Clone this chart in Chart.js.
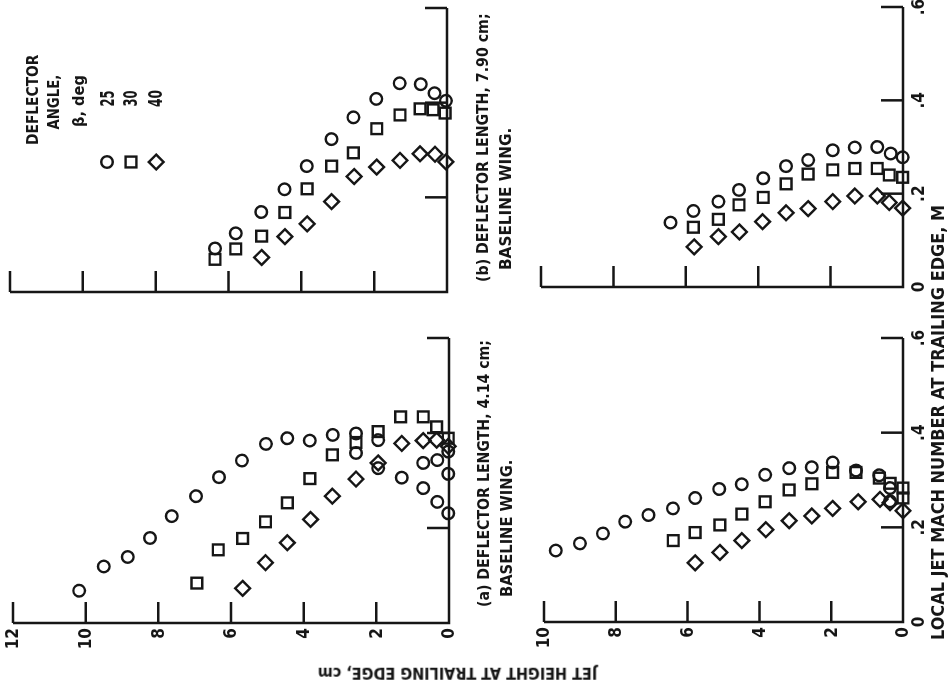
<!DOCTYPE html>
<html>
<head>
<meta charset="utf-8">
<title>Local jet Mach number at trailing edge</title>
<script src="https://cdn.jsdelivr.net/npm/chart.js@4.4.1/dist/chart.umd.min.js"></script>
<style>
  html, body { margin: 0; background: #fff; overflow: hidden; }
  body { width: 951px; height: 690px; position: relative; }
  /* figure is laid out upright, then turned a quarter turn to the left */
  #sheet { position: absolute; left: 0; top: 0; width: 690px; height: 951px;
           transform-origin: 0 0; transform: translate(0, 690px) rotate(-90deg); }
  #sheet canvas { position: absolute; }
  .txt { position: absolute; white-space: nowrap; color: #161616; font-weight: bold; line-height: 1;
         font-family: "Liberation Sans Narrow", "DejaVu Sans Condensed", "Liberation Sans", sans-serif; }
  #key { position: absolute; left: 518px; top: 95px; }
</style>
</head>
<body>
<div id="sheet">
  <canvas id="panelA"></canvas>
  <canvas id="panelB"></canvas>
  <canvas id="panelC"></canvas>
  <canvas id="panelD"></canvas>

  <div class="txt" data-x="83" data-y="484" data-w="267" style="font-size:16px">(a) DEFLECTOR LENGTH, 4.14 cm;</div>
  <div class="txt" data-x="93" data-y="507" data-w="137" style="font-size:16px">BASELINE WING.</div>
  <div class="txt" data-x="408" data-y="483" data-w="269" style="font-size:16px">(b) DEFLECTOR LENGTH, 7.90 cm;</div>
  <div class="txt" data-x="420" data-y="506" data-w="142" style="font-size:16px">BASELINE WING.</div>

  <div class="txt" data-x="50" data-y="938" data-w="435" style="font-size:18px">LOCAL JET MACH NUMBER AT TRAILING EDGE, M</div>
  <div class="txt" data-x="17" data-y="457" data-w="279" data-center="1" data-rot="-90" style="font-size:15px">JET HEIGHT AT TRAILING EDGE, cm</div>

  <div class="txt" data-x="590" data-y="33" data-w="90" data-center="1" style="font-size:15px">DEFLECTOR</div>
  <div class="txt" data-x="588" data-y="54" data-w="55" data-center="1" style="font-size:15px">ANGLE,</div>
  <div class="txt" data-x="589" data-y="79" data-w="52" data-center="1" style="font-size:15px">β, deg</div>
  <div class="txt" id="key25" data-x="591" data-y="107" data-w="16" data-center="1" style="font-size:20px"></div>
  <div class="txt" id="key30" data-x="591" data-y="130" data-w="16" data-center="1" style="font-size:20px"></div>
  <div class="txt" id="key40" data-x="591" data-y="155" data-w="17" data-center="1" style="font-size:20px"></div>

  <svg id="key" width="22" height="76" viewBox="0 0 22 76">
    <g fill="none" stroke="#161616" stroke-width="2.4">
      <circle cx="10" cy="12" r="5.8"/>
      <rect x="4.6" y="30.6" width="10.8" height="10.8"/>
      <polygon points="10,53.8 17.4,61.2 10,68.6 2.6,61.2"/>
    </g>
  </svg>
</div>

<script>
// deflector angles, deg
const angles = [25, 30, 40];

// axis ticks
const machTicks = [0, 0.2, 0.4, 0.6];
const machTickLabels = ['0', '.2', '.4', '.6'];
const heightTicksUpper = [0, 2, 4, 6, 8, 10, 12];
const heightTicksLower = [0, 2, 4, 6, 8, 10];

// (a) deflector length 4.14 cm, baseline wing -- jet height (cm) and local Mach number
const heightA25 = [10.18, 9.50, 8.84, 8.23, 7.63, 6.96, 6.33, 5.70, 5.04, 4.45, 3.83, 3.20, 2.56, 2.56, 1.95, 1.95, 1.30, 0.71, 0.71, 0.32, 0.32, 0.02, 0.02, 0.02];
const machA25   = [0.068, 0.119, 0.139, 0.179, 0.225, 0.267, 0.307, 0.342, 0.377, 0.389, 0.384, 0.396, 0.399, 0.358, 0.385, 0.326, 0.306, 0.337, 0.284, 0.343, 0.255, 0.361, 0.314, 0.231];
const heightA30 = [6.94, 6.35, 5.68, 5.05, 4.45, 3.83, 3.21, 2.56, 1.95, 1.33, 0.71, 0.34, 0.02];
const machA30   = [0.084, 0.154, 0.178, 0.213, 0.253, 0.304, 0.354, 0.380, 0.403, 0.434, 0.434, 0.413, 0.389];
const heightA40 = [5.68, 5.05, 4.45, 3.81, 3.21, 2.56, 1.95, 1.30, 0.71, 0.34, 0.02];
const machA40   = [0.073, 0.127, 0.169, 0.218, 0.267, 0.303, 0.337, 0.378, 0.384, 0.385, 0.372];

// (b) deflector length 7.90 cm, baseline wing
const heightB25 = [6.37, 5.80, 5.10, 4.46, 3.85, 3.17, 2.57, 1.94, 1.30, 0.72, 0.34, 0.03];
const machB25   = [0.092, 0.124, 0.169, 0.217, 0.266, 0.323, 0.369, 0.408, 0.441, 0.439, 0.420, 0.404];
const heightB30 = [6.37, 5.80, 5.09, 4.45, 3.84, 3.17, 2.57, 1.93, 1.29, 0.74, 0.38, 0.05];
const machB30   = [0.069, 0.091, 0.118, 0.168, 0.218, 0.266, 0.294, 0.345, 0.374, 0.387, 0.385, 0.378];
const heightB40 = [5.09, 4.45, 3.84, 3.17, 2.55, 1.93, 1.29, 0.74, 0.33, 0.03];
const machB40   = [0.073, 0.117, 0.144, 0.191, 0.244, 0.264, 0.278, 0.292, 0.291, 0.275];

// lower row, 4.14 cm deflector
const heightC25 = [9.67, 9.00, 8.36, 7.74, 7.09, 6.41, 5.79, 5.12, 4.49, 3.84, 3.17, 2.54, 1.96, 1.31, 0.66, 0.36, 0.36];
const machC25   = [0.151, 0.166, 0.187, 0.212, 0.226, 0.240, 0.262, 0.281, 0.291, 0.311, 0.325, 0.327, 0.337, 0.320, 0.310, 0.283, 0.255];
const heightC30 = [6.40, 5.79, 5.10, 4.49, 3.84, 3.17, 2.54, 1.96, 1.31, 0.66, 0.36, 0.00, 0.00];
const machC30   = [0.172, 0.189, 0.205, 0.228, 0.254, 0.279, 0.292, 0.316, 0.316, 0.304, 0.293, 0.283, 0.262];
const heightC40 = [5.79, 5.10, 4.49, 3.82, 3.17, 2.54, 1.96, 1.25, 0.64, 0.36, 0.00];
const machC40   = [0.125, 0.147, 0.172, 0.195, 0.214, 0.224, 0.240, 0.254, 0.259, 0.252, 0.235];

// lower row, 7.90 cm deflector
const heightD25 = [6.42, 5.79, 5.10, 4.53, 3.86, 3.23, 2.62, 1.94, 1.33, 0.71, 0.34, 0.01];
const machD25   = [0.138, 0.163, 0.183, 0.208, 0.233, 0.259, 0.272, 0.293, 0.299, 0.300, 0.286, 0.278];
const heightD30 = [5.79, 5.10, 4.53, 3.86, 3.23, 2.62, 1.94, 1.33, 0.71, 0.38, 0.01];
const machD30   = [0.128, 0.145, 0.176, 0.192, 0.221, 0.242, 0.251, 0.254, 0.254, 0.240, 0.235];
const heightD40 = [5.77, 5.10, 4.52, 3.88, 3.23, 2.62, 1.94, 1.33, 0.71, 0.38, 0.01];
const machD40   = [0.086, 0.108, 0.118, 0.140, 0.159, 0.168, 0.183, 0.195, 0.195, 0.181, 0.169];

const ink = '#161616';
const tickFont = 'bold 17px "Liberation Sans Narrow", "DejaVu Sans Condensed", "Liberation Sans", sans-serif';

const symbols = {
  25: { pointStyle: 'circle', pointRadius: 5.8 },
  30: { pointStyle: 'rect', pointRadius: 7.6 },
  40: { pointStyle: 'rectRot', pointRadius: 7.4 }
};

function series(angle, heights, machs) {
  return {
    label: angle + ' deg',
    data: heights.map((h, i) => ({ x: machs[i], y: h })),
    pointStyle: symbols[angle].pointStyle,
    pointRadius: symbols[angle].pointRadius,
    pointBorderColor: ink,
    pointBackgroundColor: 'rgba(0,0,0,0)',
    pointBorderWidth: 2.4,
    showLine: false,
    clip: false
  };
}

// L-shaped axes with ticks pointing into the plot
const axesL = {
  id: 'axesL',
  beforeDatasetsDraw(chart, args, o) {
    const { ctx, scales: { x, y } } = chart;
    const x0 = x.getPixelForValue(0), y0 = y.getPixelForValue(0);
    ctx.save();
    ctx.strokeStyle = ink;
    ctx.lineWidth = 2.5;
    ctx.beginPath();
    ctx.moveTo(x0, y.getPixelForValue(y.max));
    ctx.lineTo(x0, y0);
    ctx.lineTo(x.getPixelForValue(x.max), y0);
    o.heightTicks.forEach(v => {
      if (!v) return;
      const py = y.getPixelForValue(v);
      ctx.moveTo(x0, py); ctx.lineTo(x0 + 21, py);
    });
    machTicks.forEach(v => {
      if (!v) return;
      const px = x.getPixelForValue(v);
      ctx.moveTo(px, y0); ctx.lineTo(px, y0 - 22);
    });
    ctx.stroke();

    ctx.fillStyle = ink;
    ctx.font = tickFont;
    if (o.heightLabels) {
      ctx.textAlign = 'right';
      ctx.textBaseline = 'middle';
      o.heightTicks.forEach(v => ctx.fillText(String(v), x0 - 5, y.getPixelForValue(v) + 1));
    }
    if (o.machLabels) {
      ctx.textAlign = 'center';
      ctx.textBaseline = 'top';
      machTicks.forEach((v, i) => ctx.fillText(machTickLabels[i], x.getPixelForValue(v), y0 + 8));
    }
    ctx.restore();
  }
};

function panel(id, box, heightTicks, heightLabels, machLabels, sets) {
  const pad = 60;
  const cv = document.getElementById(id);
  cv.width = box.right - box.left + 2 * pad;
  cv.height = box.bottom - box.top + 2 * pad;
  cv.style.left = (box.left - pad) + 'px';
  cv.style.top = (box.top - pad) + 'px';
  return new Chart(cv, {
    type: 'scatter',
    data: { datasets: sets },
    options: {
      responsive: false,
      animation: false,
      events: [],
      layout: { padding: pad },
      plugins: {
        legend: { display: false },
        tooltip: { enabled: false },
        axesL: { heightTicks, heightLabels, machLabels }
      },
      scales: {
        x: { type: 'linear', min: 0, max: 0.6, display: false },
        y: { type: 'linear', min: 0, max: heightTicks[heightTicks.length - 1], display: false }
      }
    },
    plugins: [axesL]
  });
}

panel('panelA', { left: 67, right: 352, top: 13, bottom: 449 }, heightTicksUpper, true, false,
  [series(25, heightA25, machA25), series(30, heightA30, machA30), series(40, heightA40, machA40)]);
panel('panelB', { left: 398, right: 682, top: 10, bottom: 447 }, heightTicksUpper, false, false,
  [series(25, heightB25, machB25), series(30, heightB30, machB30), series(40, heightB40, machB40)]);
panel('panelC', { left: 68, right: 352, top: 544, bottom: 903 }, heightTicksLower, true, true,
  [series(25, heightC25, machC25), series(30, heightC30, machC30), series(40, heightC40, machC40)]);
panel('panelD', { left: 403, right: 683, top: 541, bottom: 903 }, heightTicksLower, false, true,
  [series(25, heightD25, machD25), series(30, heightD30, machD30), series(40, heightD40, machD40)]);

document.getElementById('key25').textContent = angles[0];
document.getElementById('key30').textContent = angles[1];
document.getElementById('key40').textContent = angles[2];

// place each label at its anchor and squeeze it to its set width
document.querySelectorAll('.txt').forEach(el => {
  const w = el.offsetWidth, h = el.offsetHeight;
  const cx = +el.dataset.x, cy = +el.dataset.y;
  const k = el.dataset.w ? +el.dataset.w / w : 1;
  const rot = el.dataset.rot ? 'rotate(' + el.dataset.rot + 'deg) ' : '';
  if (el.dataset.center) {
    el.style.left = (cx - w / 2) + 'px';
    el.style.transformOrigin = '50% 50%';
  } else {
    el.style.left = cx + 'px';
    el.style.transformOrigin = '0 50%';
  }
  el.style.top = (cy - h / 2) + 'px';
  el.style.transform = rot + 'scaleX(' + k + ')';
});
</script>
</body>
</html>
